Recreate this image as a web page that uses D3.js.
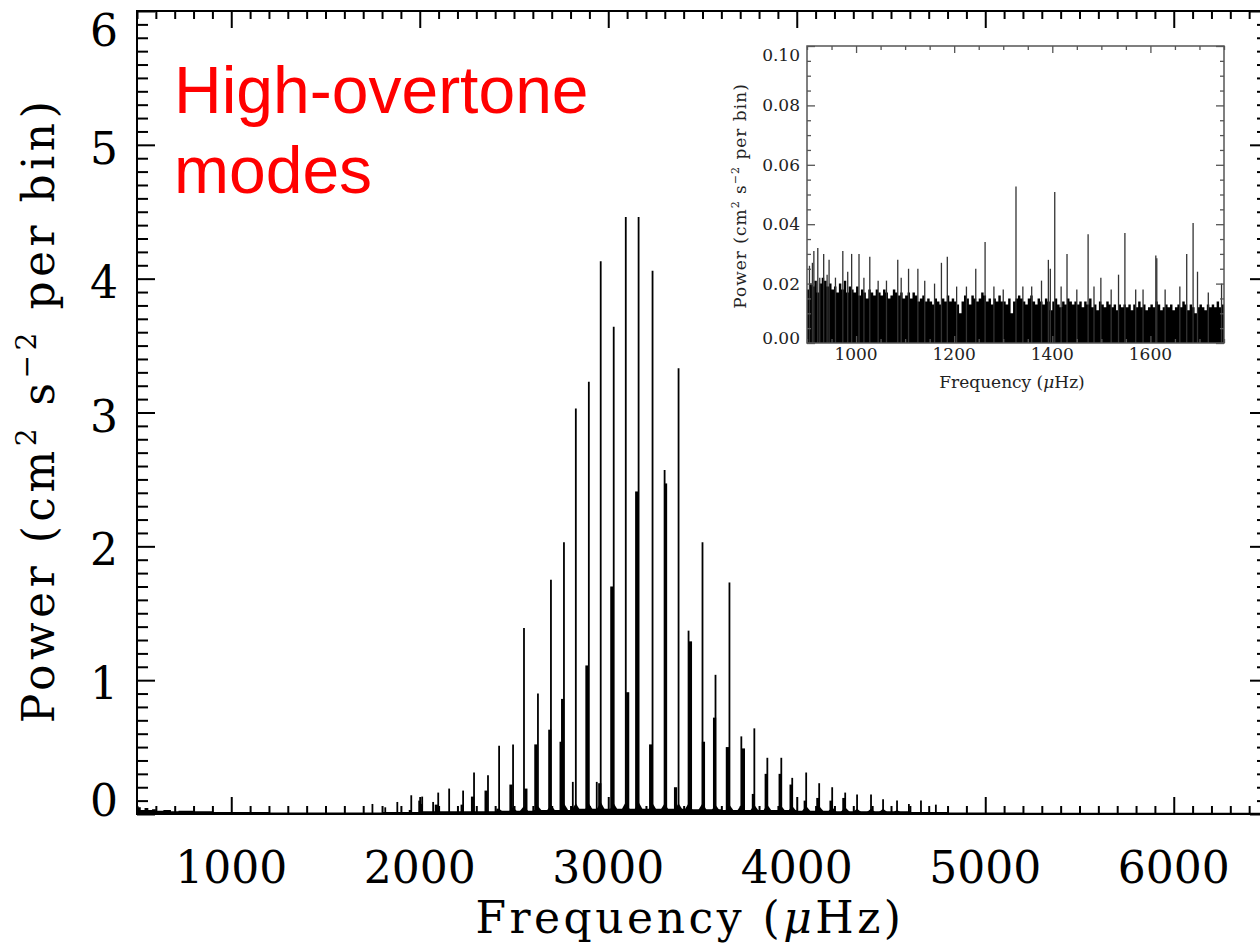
<!DOCTYPE html>
<html>
<head>
<meta charset="utf-8">
<script src="https://cdn.jsdelivr.net/npm/d3@7"></script>
<style>
  body { margin: 0; background: #fff; }
  svg { display: block; }
  .serif { font-family: "DejaVu Serif", "Liberation Serif", serif; }
</style>
</head>
<body>
<svg id="chart" width="1260" height="950"></svg>
<script>

// Main spectrum (frequency in uHz, power in cm^2 s^-2 per bin)
// thin spikes: the tallest bin of each mode
const spikeFreq  = [1749, 1817, 1881, 1955, 1997, 2013, 2071, 2098, 2156, 2230,
                    2288, 2362, 2421, 2495, 2553, 2627, 2696, 2765, 2812, 2828,
                    2897, 2939, 2960, 3029, 3093, 3161, 3235, 3299, 3373, 3426,
                    3500, 3569, 3643, 3706, 3775, 3844, 3918, 3976, 4050, 4119,
                    4188, 4257, 4320, 4394, 4458, 4532, 4595, 4659, 4738]
const spikePower = [0.075, 0.05, 0.09, 0.14, 0.10, 0.13, 0.09, 0.16, 0.19, 0.175,
                    0.31, 0.29, 0.51, 0.52, 1.39, 0.90, 1.75, 2.03, 0.24, 3.03,
                    3.23, 0.24, 4.13, 3.64, 4.46, 4.46, 4.06, 2.57, 3.33, 1.37,
                    2.03, 1.04, 1.73, 0.58, 0.64, 0.42, 0.42, 0.27, 0.31, 0.23,
                    0.20, 0.16, 0.145, 0.145, 0.11, 0.10, 0.075, 0.10, 0.07]

// thicker blocks next to the spikes (the neighbouring modes of each pair)
const bandFreq  = [1950, 2005, 2088, 2225, 2280, 2352, 2415, 2484, 2563, 2616,
                   2690, 2750, 2758, 2887, 2955, 3019, 3103, 3151, 3225, 3304,
                   3357, 3436, 3505, 3564, 3632, 3717, 3770, 3838, 3912, 3970,
                   4045, 4112, 4182, 4250]
const bandPower = [0.03, 0.075, 0.07, 0.07, 0.13, 0.175, 0.04, 0.22, 0.19, 0.52,
                   0.63, 0.54, 0.86, 1.11, 0.23, 1.70, 0.91, 2.41, 0.52, 2.47,
                   0.20, 1.29, 0.54, 0.72, 0.50, 0.49, 0.15, 0.30, 0.30, 0.22,
                   0.10, 0.12, 0.10, 0.12]

// little humps at the foot of each mode
const skirtFreq  = [2421, 2495, 2553, 2627, 2696, 2765, 2828, 2897, 2960, 3029,
                    3093, 3161, 3235, 3299, 3373, 3426, 3500, 3569, 3643, 3706,
                    3775, 3844, 3918, 3976, 4050, 4119, 4188, 4257, 4320, 4394,
                    4458, 4532]
const skirtPower = [0.04, 0.05, 0.06, 0.06, 0.07, 0.08, 0.08, 0.08, 0.09, 0.08,
                    0.09, 0.09, 0.08, 0.08, 0.08, 0.08, 0.08, 0.07, 0.07, 0.07,
                    0.07, 0.07, 0.06, 0.06, 0.06, 0.06, 0.05, 0.05, 0.04, 0.04,
                    0.04, 0.03]

// background noise along the bottom
const noiseFreq  = [500, 520, 540, 560, 580, 600, 640, 680, 720, 800,
                    900, 1000, 1200, 1400, 1600, 1800, 2000, 2200, 2400, 2600,
                    2800, 3000, 3200, 3400, 3600, 3800, 4000, 4200, 4400, 4600,
                    4800, 5000, 5200, 5400, 5600, 5800, 6000, 6200, 6500]
const noisePower = [0.05, 0.03, 0.045, 0.03, 0.035, 0.025, 0.03, 0.02, 0.025, 0.02,
                    0.015, 0.015, 0.012, 0.012, 0.012, 0.015, 0.02, 0.02, 0.025, 0.03,
                    0.04, 0.04, 0.04, 0.035, 0.03, 0.03, 0.025, 0.02, 0.02, 0.015,
                    0.012, 0.012, 0.01, 0.01, 0.01, 0.01, 0.01, 0.01, 0.01]

const xMajor = [1000, 2000, 3000, 4000, 5000, 6000]
const yMajor = [0, 1, 2, 3, 4, 5, 6]

// Inset: low-frequency noise, 5 uHz bins from 900 uHz, power in units of 1e-3
const insetStart = 900
const insetBin = 5
const insetFloor = [18, 20, 19, 21, 17, 20, 22, 21, 19, 20,
                    18, 19, 17, 20, 18, 21, 17, 19, 18, 17,
                    19, 16, 18, 17, 15, 18, 17, 16, 18, 17,
                    16, 18, 17, 15, 16, 18, 17, 16, 17, 15,
                    16, 17, 15, 17, 16, 14, 15, 16, 14, 15,
                    14, 13, 15, 14, 13, 15, 14, 16, 14, 15,
                    14, 13, 10, 14, 16, 15, 13, 16, 15, 14,
                    15, 17, 16, 14, 15, 13, 15, 14, 16, 14,
                    14, 13, 15, 10, 14, 15, 16, 15, 14, 13,
                    15, 16, 14, 13, 15, 14, 13, 15, 14, 11,
                    14, 15, 13, 12, 14, 13, 15, 14, 13, 14,
                    13, 14, 12, 14, 13, 15, 12, 13, 11, 14,
                    13, 12, 14, 13, 12, 13, 11, 13, 12, 13,
                    12, 13, 11, 13, 12, 14, 12, 13, 11, 12,
                    13, 12, 14, 13, 11, 12, 13, 12, 13, 11,
                    12, 13, 12, 14, 13, 11, 13, 12, 10, 12,
                    13, 12, 11, 13, 12, 13, 12, 14, 12, 13,
                    13]
const insetSpikeFreq  = [905, 911, 914, 922, 926, 934, 941, 945, 958, 973,
                         983, 991, 1006, 1016, 1028, 1045, 1062, 1085, 1092, 1107,
                         1126, 1140, 1160, 1174, 1186, 1205, 1225, 1244, 1263, 1281,
                         1300, 1326, 1340, 1358, 1378, 1392, 1396, 1405, 1418, 1430,
                         1450, 1473, 1485, 1499, 1520, 1535, 1548, 1570, 1585, 1611,
                         1613, 1630, 1660, 1674, 1687, 1696, 1718, 1745]
const insetSpikePower = [26, 27, 31, 32, 22, 30, 23, 28, 22, 31,
                         24, 30, 30, 22, 29, 21, 21, 28, 22, 25,
                         25, 21, 20, 27, 29, 19, 19, 25, 34, 19,
                         18, 52.7, 19, 19, 21, 28, 25, 50.8, 19, 30,
                         18, 36.6, 19, 22, 18, 23, 37, 18, 18, 29.5,
                         28.5, 18, 19, 30, 40.4, 24, 17, 20]
const insetXMajor = [1000, 1200, 1400, 1600]
const insetYMajor = [0, 0.02, 0.04, 0.06, 0.08, 0.10]

const svg = d3.select("#chart")

const x = d3.scaleLinear().domain([500, 6500]).range([137, 1268])
const y = d3.scaleLinear().domain([0, 6]).range([814, 11])

drawSpectrum()
drawAxes()
drawInset()
drawNote()

function drawSpectrum() {
  var g = svg.append("g")

  var noise = noiseFreq.map((f, i) => [f, noisePower[i]])
  g.append("path")
    .datum(noise)
    .attr("fill", "black")
    .attr("d", d3.area().curve(d3.curveStepAfter)
      .x(d => x(d[0])).y0(y(0)).y1(d => y(d[1])))

  // foot of each mode as a small triangle, 35 uHz either side
  var line = d3.line().x(d => x(d[0])).y(d => y(d[1]))
  g.selectAll("path.skirt")
    .data(skirtFreq)
    .enter()
    .append("path")
    .attr("class", "skirt")
    .attr("fill", "black")
    .attr("d", (f, i) => line([[f - 35, 0], [f, skirtPower[i]], [f + 35, 0]]) + "Z")

  g.selectAll("rect.band")
    .data(bandFreq)
    .enter()
    .append("rect")
    .attr("class", "band")
    .attr("x", f => x(f) - 1.6)
    .attr("width", 3.2)
    .attr("y", (f, i) => y(bandPower[i]))
    .attr("height", (f, i) => y(0) - y(bandPower[i]))
    .attr("fill", "black")

  g.selectAll("line.spike")
    .data(spikeFreq)
    .enter()
    .append("line")
    .attr("class", "spike")
    .attr("x1", f => x(f))
    .attr("x2", f => x(f))
    .attr("y1", y(0))
    .attr("y2", (f, i) => y(spikePower[i]))
    .attr("stroke", "black")
    .attr("stroke-width", 1.8)
}

function tickSet(g, axis, scale, values, size, pos, color, width) {
  g.append("g")
    .attr("transform", pos)
    .call(axis(scale).tickValues(values).tickSize(size).tickFormat(""))
    .call(a => a.select(".domain").remove())
    .selectAll("line")
      .attr("stroke", color)
      .attr("stroke-width", width)
}

function drawAxes() {
  var g = svg.append("g")
  var xMinor = d3.range(500, 6501, 100).filter(v => v % 1000 != 0)
  var yMinor = d3.range(0, 61).map(v => v / 10).filter(v => v % 1 != 0)

  tickSet(g, d3.axisBottom, x, xMajor, -17, `translate(0,${y(0)})`, "black", 2)
  tickSet(g, d3.axisBottom, x, xMinor, -8, `translate(0,${y(0)})`, "black", 2)
  tickSet(g, d3.axisTop, x, xMajor, -17, `translate(0,${y(6)})`, "black", 2)
  tickSet(g, d3.axisTop, x, xMinor, -8, `translate(0,${y(6)})`, "black", 2)
  tickSet(g, d3.axisLeft, y, yMajor, -18, `translate(${x(500)},0)`, "black", 2)
  tickSet(g, d3.axisLeft, y, yMinor, -11, `translate(${x(500)},0)`, "black", 2)
  tickSet(g, d3.axisRight, y, yMajor, -18, `translate(${x(6500)},0)`, "black", 2)
  tickSet(g, d3.axisRight, y, yMinor, -11, `translate(${x(6500)},0)`, "black", 2)

  g.append("rect")
    .attr("x", x(500)).attr("y", y(6))
    .attr("width", x(6500) - x(500)).attr("height", y(0) - y(6))
    .attr("fill", "none").attr("stroke", "black").attr("stroke-width", 2)

  g.selectAll("text.xlab")
    .data(xMajor)
    .enter()
    .append("text")
    .attr("class", "xlab serif")
    .attr("x", d => x(d))
    .attr("y", 883)
    .attr("text-anchor", "middle")
    .attr("font-size", 44)
    .text(d => d)

  // end labels sit inside the frame, the way the original plot has them
  g.selectAll("text.ylab")
    .data(yMajor)
    .enter()
    .append("text")
    .attr("class", "ylab serif")
    .attr("x", 118)
    .attr("y", d => y(d) + (d == 6 ? 35 : d == 0 ? 2 : 19))
    .attr("text-anchor", "end")
    .attr("font-size", 44)
    .text(d => d)

  var xt = g.append("text")
    .attr("class", "serif")
    .attr("x", 690).attr("y", 933)
    .attr("text-anchor", "middle")
    .attr("font-size", 44)
    .attr("letter-spacing", 3.5)
  xt.append("tspan").text("Frequency (")
  xt.append("tspan").attr("font-style", "italic").text("μ")
  xt.append("tspan").text("Hz)")

  var yt = g.append("text")
    .attr("class", "serif")
    .attr("transform", "translate(54,410) rotate(-90)")
    .attr("text-anchor", "middle")
    .attr("font-size", 44)
    .attr("letter-spacing", 4.5)
  yt.append("tspan").text("Power (cm")
  yt.append("tspan").attr("font-size", 28).attr("dy", -18).text("2")
  yt.append("tspan").attr("dy", 18).text(" s")
  yt.append("tspan").attr("font-size", 28).attr("dy", -18).text("−2")
  yt.append("tspan").attr("dy", 18).text(" per bin)")
}

function drawInset() {
  var ix = d3.scaleLinear().domain([900, 1750]).range([807, 1224])
  var iy = d3.scaleLinear().domain([0, 0.1]).range([343, 46])
  var g = svg.append("g")
  var frame = "#555"

  g.append("rect")
    .attr("x", ix(900)).attr("y", iy(0.1))
    .attr("width", ix(1750) - ix(900)).attr("height", iy(0) - iy(0.1))
    .attr("fill", "white")

  var bins = insetFloor.map((p, i) => [insetStart + i * insetBin, p * 1e-3])
  g.append("path")
    .datum(bins)
    .attr("fill", "black")
    .attr("d", d3.area().curve(d3.curveStepAfter)
      .x(d => ix(d[0])).y0(iy(0)).y1(d => iy(d[1])))

  g.selectAll("line.ispike")
    .data(insetSpikeFreq)
    .enter()
    .append("line")
    .attr("class", "ispike")
    .attr("x1", f => ix(f))
    .attr("x2", f => ix(f))
    .attr("y1", iy(0))
    .attr("y2", (f, i) => iy(insetSpikePower[i] * 1e-3))
    .attr("stroke", "#333")
    .attr("stroke-width", 1.3)

  var xMinor = d3.range(900, 1751, 50).filter(v => v % 200 != 0)
  var yMinor = d3.range(0, 21).map(v => v * 0.005).filter((v, i) => i % 4 != 0)

  tickSet(g, d3.axisBottom, ix, insetXMajor, -7, `translate(0,${iy(0)})`, frame, 1.3)
  tickSet(g, d3.axisBottom, ix, xMinor, -4, `translate(0,${iy(0)})`, frame, 1.3)
  tickSet(g, d3.axisTop, ix, insetXMajor, -7, `translate(0,${iy(0.1)})`, frame, 1.3)
  tickSet(g, d3.axisTop, ix, xMinor, -4, `translate(0,${iy(0.1)})`, frame, 1.3)
  tickSet(g, d3.axisLeft, iy, insetYMajor, -8, `translate(${ix(900)},0)`, frame, 1.3)
  tickSet(g, d3.axisLeft, iy, yMinor, -4, `translate(${ix(900)},0)`, frame, 1.3)
  tickSet(g, d3.axisRight, iy, insetYMajor, -8, `translate(${ix(1750)},0)`, frame, 1.3)
  tickSet(g, d3.axisRight, iy, yMinor, -4, `translate(${ix(1750)},0)`, frame, 1.3)

  g.append("rect")
    .attr("x", ix(900)).attr("y", iy(0.1))
    .attr("width", ix(1750) - ix(900)).attr("height", iy(0) - iy(0.1))
    .attr("fill", "none").attr("stroke", frame).attr("stroke-width", 1.5)

  g.selectAll("text.ixlab")
    .data(insetXMajor)
    .enter()
    .append("text")
    .attr("class", "ixlab serif")
    .attr("x", d => ix(d))
    .attr("y", 360)
    .attr("text-anchor", "middle")
    .attr("font-size", 17)
    .attr("fill", "#222")
    .text(d => d)

  g.selectAll("text.iylab")
    .data(insetYMajor)
    .enter()
    .append("text")
    .attr("class", "iylab serif")
    .attr("x", 800)
    .attr("y", d => iy(d) + (d == 0.1 ? 15 : d == 0 ? 1 : 6))
    .attr("text-anchor", "end")
    .attr("font-size", 17)
    .attr("fill", "#222")
    .text(d => d3.format(".2f")(d))

  var xt = g.append("text")
    .attr("class", "serif")
    .attr("x", 1012).attr("y", 388)
    .attr("text-anchor", "middle")
    .attr("font-size", 17)
    .attr("fill", "#222")
  xt.append("tspan").text("Frequency (")
  xt.append("tspan").attr("font-style", "italic").text("μ")
  xt.append("tspan").text("Hz)")

  var yt = g.append("text")
    .attr("class", "serif")
    .attr("transform", "translate(746,196) rotate(-90)")
    .attr("text-anchor", "middle")
    .attr("font-size", 17)
    .attr("letter-spacing", 1)
    .attr("fill", "#222")
  yt.append("tspan").text("Power (cm")
  yt.append("tspan").attr("font-size", 11).attr("dy", -7).text("2")
  yt.append("tspan").attr("dy", 7).text(" s")
  yt.append("tspan").attr("font-size", 11).attr("dy", -7).text("−2")
  yt.append("tspan").attr("dy", 7).text(" per bin)")
}

function drawNote() {
  var note = svg.append("text")
    .attr("font-family", "'Liberation Sans', Arial, sans-serif")
    .attr("font-size", 66)
    .attr("fill", "#ff0000")
  note.append("tspan").attr("x", 174).attr("y", 113).text("High-overtone")
  note.append("tspan").attr("x", 174).attr("y", 193).text("modes")
}
</script>
</body>
</html>
